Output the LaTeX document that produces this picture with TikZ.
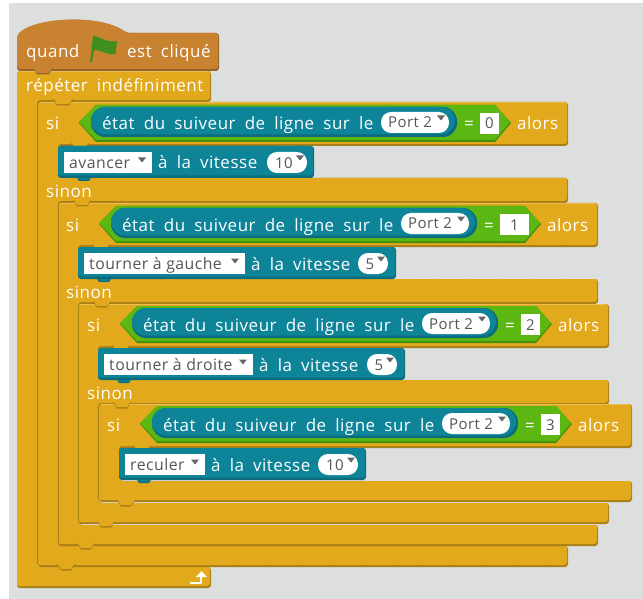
\documentclass[tikz,border=0pt]{standalone}
\usepackage{fontspec}
\setmainfont[LetterSpace=3.0,WordSpace=1.85]{Open Sans}
\newfontfamily\fldfont[LetterSpace=3.0]{Open Sans}
\definecolor{bgc}{HTML}{DDDFDF}
\definecolor{dotc}{HTML}{D3D5D5}
\definecolor{gold}{HTML}{E2A91C}
\definecolor{golddk}{HTML}{A97F17}
\definecolor{goldlt}{HTML}{EBBE55}
\definecolor{hatc}{HTML}{C98230}
\definecolor{hatdk}{HTML}{98652A}
\definecolor{teal1}{HTML}{0E8499}
\definecolor{tealdk}{HTML}{0B6C7D}
\definecolor{green1}{HTML}{5DB712}
\definecolor{greendk}{HTML}{438F0C}
\definecolor{flagc}{HTML}{3F8F1F}
\definecolor{fieldtx}{HTML}{555555}
\tikzset{
  wt/.style={text=white,inner sep=0pt,font=\fontsize{17}{20}\selectfont,anchor=base west},
  ft/.style={text=fieldtx,inner sep=0pt,font=\fldfont\fontsize{15.8}{18}\selectfont,anchor=base west},
  pt/.style={text=fieldtx,inner sep=0pt,font=\fldfont\fontsize{15}{16}\selectfont,anchor=base west},
  fc/.style={text=fieldtx,inner sep=0pt,font=\fldfont\fontsize{15}{16}\selectfont,anchor=base},
  fieldbox/.style={fill=white},
  caret/.style={fill=fieldtx!90},
  armedge/.style={golddk,line width=1pt},
}
% C-shaped blocks
\newcommand\pathtwo[5]{(#1,#3) -- (#2,#3) -- (#2,#4) -- (#1+21,#4) -- (#1+21,#5-21) -- (#2,#5-21) -- (#2,#5) -- (#1,#5) -- cycle}
\newcommand\paththree[7]{(#1,#3) -- (#2,#3) -- (#2,#4) -- (#1+21,#4) -- (#1+21,#5) -- (#2,#5) -- (#2,#6) -- (#1+21,#6) -- (#1+21,#7-21) -- (#2,#7-21) -- (#2,#7) -- (#1,#7) -- cycle}
\newcommand\shaded[3]{% main, dark, path
  \fill[#2,rounded corners=3pt] #3;
  \begin{scope}
    \clip[rounded corners=3pt] #3;
    \begin{scope}[shift={(-1,-2)}]
      \fill[#1,rounded corners=3pt] #3;
    \end{scope}
  \end{scope}}
\newcommand\tabdown[5]{% x1 x2 y main dark
  \fill[#5] (#1,#3-3) -- (#1+4,#3+3.5) -- (#2-4,#3+3.5) -- (#2,#3-3) -- cycle;
  \fill[#4] (#1,#3-4) -- (#1+4,#3+2) -- (#2-4,#3+2) -- (#2,#3-4) -- cycle;}
\newcommand\caret[2]{\fill[caret] (#1-4,#2-2.5) -- (#1+4,#2-2.5) -- (#1,#2+2.5) -- cycle;}
% condition row: id dx dy extra value
\newcommand\condrow[5]{%
  \node[wt] (si#1) at (#2+46,#3+130) {si};
  \fill[greendk] (#2+79,#3+123) -- (#2+96,#3+105) -- (#2+495+#4,#3+105) -- (#2+511+#4,#3+123) -- (#2+495+#4,#3+142) -- (#2+96,#3+142) -- cycle;
  \fill[green1] (#2+79,#3+122) -- (#2+96,#3+105) -- (#2+495+#4,#3+105) -- (#2+510+#4,#3+122) -- (#2+495+#4,#3+140) -- (#2+96,#3+140) -- cycle;
  \fill[tealdk,rounded corners=14pt] (#2+91,#3+107) rectangle (#2+457,#3+137);
  \fill[teal1,rounded corners=14pt] (#2+91,#3+107) rectangle (#2+455,#3+134.5);
  \node[wt] (etat#1) at (#2+102,#3+130) {état du suiveur de ligne sur le};
  \fill[fieldbox,rounded corners=10pt] (#2+381,#3+112) rectangle (#2+449,#3+133);
  \node[pt] (port#1) at (#2+388,#3+128) {Port 2};
  \caret{#2+441}{#3+118}
  \node[wt] (eq#1) at (#2+464,#3+130) {=};
  \fill[fieldbox] (#2+480,#3+113) rectangle (#2+499+#4,#3+134);
  \node[fc] (val#1) at (#2+489.5+#4/2,#3+129) {#5};
  \node[wt] (alors#1) at (#2+517+#4,#3+130) {alors};
}
% stack row: id x y text boxright value pillL pillR R
\newcommand\stackrow[9]{%
  \fill[tealdk,rounded corners=3pt] (#2,#3) rectangle (#9,#3+32);
  \fill[teal1,rounded corners=3pt] (#2,#3) rectangle (#9-1,#3+29.5);
  \fill[fieldbox] (#2+6,#3+6) rectangle (#5,#3+27);
  \node[ft] (cmd#1) at (#2+11,#3+22) {#4};
  \caret{#5-10}{#3+14}
  \node[wt] (vit#1) at (#5+6,#3+23) {à la vitesse};
  \fill[fieldbox,rounded corners=10pt] (#7,#3+6) rectangle (#8,#3+27);
  \node[fc] (spd#1) at ({(#7+#8)/2-3},#3+22) {#6};
  \caret{#8-7}{#3+12}
}
\begin{document}
\begin{tikzpicture}[x=1pt,y=-1pt]
\useasboundingbox (0,0) rectangle (643,599);
\fill[white] (0,0) rectangle (643,599);
\fill[bgc] (9,3) rectangle (643,599);
% canvas dots
\foreach \r in {0,...,41}{
  \pgfmathsetmacro\yy{595-\r*13.9}
  \pgfmathsetmacro\xo{mod(\r,2)*15.5}
  \foreach \c in {0,...,20}{
    \fill[dotc] ({20.5+\xo+\c*31},\yy) circle (0.8);
  }
}
% outer forever block
\shaded{gold}{golddk}{\pathtwo{17}{211}{71}{102}{588}}
% if/else blocks
\shaded{gold}{golddk}{\paththree{38}{568}{102}{146}{178}{203}{567}}
\shaded{gold}{golddk}{\paththree{58}{598}{203}{247}{279}{304}{546}}
\shaded{gold}{golddk}{\paththree{78}{609}{304}{348}{380}{405}{524}}
\shaded{gold}{golddk}{\pathtwo{99}{632}{404}{448}{502}}
% inner edges of the arms
\draw[armedge] (37.5,103) -- (37.5,564);
\draw[armedge] (58,204) -- (58,543);
\draw[armedge] (78,305) -- (78,521);
\draw[armedge] (98.5,406) -- (98.5,499);
% highlights
\draw[goldlt,line width=.8pt] (20,71.5) -- (208,71.5);
\draw[goldlt,line width=.8pt] (40,102.8) -- (565,102.8);
\draw[goldlt,line width=.8pt] (60,203.8) -- (595,203.8);
\draw[goldlt,line width=.8pt] (80,304.8) -- (606,304.8);
\draw[goldlt,line width=.8pt] (101,404.8) -- (629,404.8);
% hat block
\fill[hatdk,rounded corners=3pt] (17,36) .. controls (35,17) and (100,14) .. (127,33) -- (219,33) -- (219,71) -- (17,71) -- cycle;
\fill[hatc,rounded corners=3pt] (17,35) .. controls (35,17) and (100,14) .. (127,33) -- (218,33) -- (218,69) -- (17,69) -- cycle;
\tabdown{33}{53}{71}{hatc}{hatdk}
\node[wt] (quand) at (26,58) {quand};
\fill[flagc] (90,62.5) -- (93,36) -- (95,36) .. controls (102,38) and (108,43) .. (117,41) -- (115.5,54) .. controls (108,56) and (102,50) .. (94,50) -- (92,62.5) -- cycle;
\node[wt] (clic) at (127,58) {est cliqué};
\node[wt] (rep) at (26,92) {répéter indéfiniment};
% tabs
\tabdown{53}{73}{102}{gold}{golddk}
\tabdown{71}{89}{146}{gold}{golddk}
\tabdown{73}{91}{203}{gold}{golddk}
\tabdown{92}{110}{247}{gold}{golddk}
\tabdown{93}{111}{304}{gold}{golddk}
\tabdown{112}{130}{348}{gold}{golddk}
\tabdown{113}{131}{405}{gold}{golddk}
\tabdown{133}{151}{448}{gold}{golddk}
\tabdown{117}{135}{503}{gold}{golddk}
\tabdown{97}{115}{524}{gold}{golddk}
\tabdown{77}{95}{546}{gold}{golddk}
\tabdown{57}{75}{567}{gold}{golddk}
% conditions
\condrow{a}{0}{0}{0}{0}
\condrow{b}{20}{101}{10}{1}
\condrow{c}{41}{201}{0}{2}
\condrow{d}{61}{301}{0}{3}
% actions
\tabdown{75}{93}{177.5}{teal1}{tealdk}
\tabdown{95}{113}{278.5}{teal1}{tealdk}
\tabdown{115}{133}{379.5}{teal1}{tealdk}
\tabdown{135}{153}{479.5}{teal1}{tealdk}
\stackrow{a}{58}{146}{avancer}{152}{10}{267}{307}{314}
\stackrow{b}{78}{247}{tourner à gauche}{245}{5}{358}{388}{396}
\stackrow{c}{98}{348}{tourner à droite}{253}{5}{367}{397}{405}
\stackrow{d}{119}{448}{reculer}{205}{10}{318}{358}{366}
% sinon labels
\node[wt] (sinona) at (46,197) {sinon};
\node[wt] (sinonb) at (66,298) {sinon};
\node[wt] (sinonc) at (87,399) {sinon};
% loop arrow
\draw[white,line width=2pt,line join=round] (190,582.5) -- (201,582.5) -- (201,576);
\fill[white] (196,577) -- (201.5,571) -- (207,577) -- cycle;
\end{tikzpicture}
\end{document}
